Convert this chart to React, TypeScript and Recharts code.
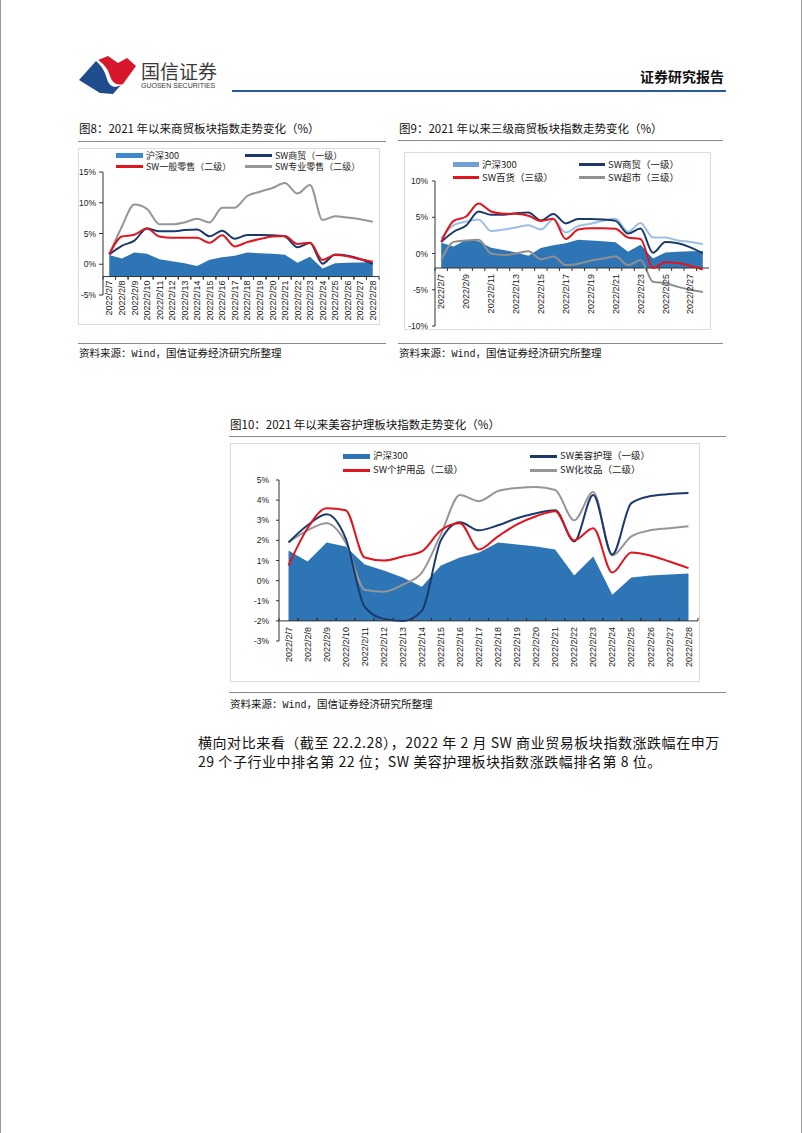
import React from 'react';
import { ComposedChart, Area, Line, XAxis, YAxis, ReferenceLine } from 'recharts';

// 交易日标签
const days = [
  '2022/2/7', '2022/2/8', '2022/2/9', '2022/2/10', '2022/2/11', '2022/2/12', '2022/2/13',
  '2022/2/14', '2022/2/15', '2022/2/16', '2022/2/17', '2022/2/18', '2022/2/19', '2022/2/20',
  '2022/2/21', '2022/2/22', '2022/2/23', '2022/2/24', '2022/2/25', '2022/2/26', '2022/2/27',
  '2022/2/28',
];

// 沪深300 (三张图共用)
const hs300 = [1.5, 0.95, 1.9, 1.7, 0.8, 0.5, 0.15, -0.3, 0.75, 1.15, 1.4, 1.9, 1.8, 1.7, 1.55, 0.25, 1.2, -0.7, 0.15, 0.25, 0.3, 0.35];

// 图8 / 图9
const swShangmao = [1.6, 3.0, 3.85, 5.8, 5.35, 5.35, 5.55, 5.65, 4.55, 5.45, 4.15, 4.75, 4.75, 4.7, 4.5, 2.75, 3.45, 0.1, 1.6, 1.4, 0.85, 0.05];
const swYibanLingshou = [1.6, 4.5, 4.8, 5.8, 4.5, 4.3, 4.3, 4.3, 3.5, 4.7, 2.9, 3.6, 4.1, 4.5, 4.6, 3.3, 3.5, 0.7, 1.5, 1.3, 0.8, 0.4];
const swZhuanyeLingshou = [1.6, 6.1, 9.7, 9.0, 6.5, 6.5, 6.8, 7.4, 6.8, 9.2, 9.2, 11.1, 11.8, 12.4, 13.2, 11.5, 12.9, 7.2, 7.8, 7.6, 7.3, 6.9];

const swBaihuo = [1.6, 4.5, 5.1, 6.9, 5.8, 5.5, 5.5, 5.2, 4.5, 4.8, 2.0, 3.3, 3.5, 3.5, 3.4, 2.2, 2.0, -2.0, -1.2, -1.3, -1.7, -2.2];
const swLightBlue = [2.1, 3.9, 4.4, 4.7, 3.1, 3.3, 3.6, 3.9, 3.3, 4.7, 2.9, 3.8, 4.1, 4.5, 4.8, 3.0, 4.2, 2.2, 2.2, 1.8, 1.6, 1.3];
const swChaoshi = [-0.9, 1.6, 1.8, 1.9, 0.0, -0.2, 0.0, 0.3, -0.8, -0.4, -1.6, -1.4, -1.0, -0.7, -0.4, -1.6, -0.9, -3.9, -4.1, -4.6, -5.0, -5.3];

// 图10
const swMeirong = [1.9, 2.75, 3.3, 2.1, -1.3, -1.9, -2.0, -1.5, 2.0, 2.9, 2.5, 2.75, 3.1, 3.35, 3.5, 1.95, 4.25, 1.3, 3.85, 4.2, 4.3, 4.35];
const swGehu = [0.75, 2.6, 3.6, 3.5, 1.15, 1.0, 1.2, 1.45, 2.5, 2.85, 1.55, 2.2, 2.8, 3.2, 3.45, 2.0, 2.6, 0.4, 1.4, 1.25, 0.95, 0.62];
const swHuazhuang = [1.9, 2.5, 2.85, 1.9, -0.45, -0.55, -0.2, 0.4, 2.3, 4.25, 3.95, 4.45, 4.6, 4.65, 4.5, 3.0, 4.4, 1.25, 2.2, 2.5, 2.6, 2.7];

const AREA = '#2E75B6';
const NAVY = '#1B3A6B';
const RED = '#E0141E';
const GRAY = '#969696';
const LIGHT = '#9DBFE4';

const CJK = '"Noto Sans CJK SC", "Noto Sans", sans-serif';
const LAT = '"Liberation Sans", Arial, sans-serif';

type S = { key: string; values: number[]; color: string; width?: number };

function XTick(props: any) {
  const { x, y, payload, shift, band, gap, up } = props;
  const ay = y - shift;
  const d = up ? -3 : 3;
  return (
    <g>
      <line x1={x - band / 2} x2={x - band / 2} y1={ay} y2={ay + d} stroke="#333" />
      <line x1={x + band / 2} x2={x + band / 2} y1={ay} y2={ay + d} stroke="#333" />
      <text
        transform={`translate(${x},${ay + gap}) rotate(-90)`}
        textAnchor="end"
        dy="0.35em"
        fontSize={9}
        fontFamily={LAT}
        fill="#222"
      >
        {payload.value}
      </text>
    </g>
  );
}

function Panel(p: {
  left: number; top: number; width: number; height: number;
  margin: { top: number; right: number; bottom: number; left: number };
  yWidth: number; xHeight: number; domain: [number, number]; ticks: number[];
  interval: number; lines: S[]; gap: number; up?: boolean; ySize: number; yMargin: number;
}) {
  const data = days.map((d, i) => {
    const r: any = { d, hs: hs300[i] };
    p.lines.forEach((s) => (r[s.key] = s.values[i]));
    return r;
  });
  const plotW = p.width - p.margin.left - p.margin.right - p.yWidth;
  const plotH = p.height - p.margin.top - p.margin.bottom - p.xHeight;
  const band = plotW / days.length;
  const shift = (plotH * (-2 - p.domain[0])) / (p.domain[1] - p.domain[0]);
  return (
    <div style={{ position: 'absolute', left: p.left, top: p.top }}>
      <ComposedChart width={p.width} height={p.height} data={data} margin={p.margin}>
        <XAxis
          dataKey="d"
          scale="point"
          padding={{ left: band / 2, right: band / 2 }}
          axisLine={false}
          tickLine={false}
          tickSize={0}
          tickMargin={0}
          interval={p.interval}
          height={p.xHeight}
          tick={(t: any) => <XTick {...t} shift={shift} band={band} gap={p.gap} up={p.up} />}
        />
        <YAxis
          type="number"
          domain={p.domain}
          ticks={p.ticks}
          interval={0}
          width={p.yWidth}
          allowDataOverflow
          axisLine={{ stroke: '#333' }}
          tickLine={{ stroke: '#333' }}
          tickSize={p.ySize}
          tickMargin={p.yMargin}
          tick={{ fontSize: 8.5, fill: '#222', fontFamily: LAT }}
          tickFormatter={(v) => `${v}%`}
        />
        <Area
          dataKey="hs"
          type="linear"
          baseValue={-2}
          fill={AREA}
          fillOpacity={1}
          stroke="none"
          dot={false}
          activeDot={false}
          isAnimationActive={false}
        />
        <ReferenceLine y={-2} stroke="#333" strokeWidth={1} />
        {p.lines.map((s) => (
          <Line
            key={s.key}
            dataKey={s.key}
            type="monotone"
            stroke={s.color}
            strokeWidth={s.width ?? 2}
            dot={false}
            activeDot={false}
            isAnimationActive={false}
          />
        ))}
      </ComposedChart>
    </div>
  );
}

function Legend2(p: {
  items: { label: string; color: string; thick: number }[];
  cols: number[]; rows: number[]; sw: number; fs: number;
}) {
  return (
    <>
      {p.items.map((it, i) => {
        const x = p.cols[i % 2];
        const y = p.rows[Math.floor(i / 2)];
        const lh = p.fs;
        return (
          <div key={it.label} style={{ position: 'absolute', left: x, top: y - lh / 2, height: lh, display: 'flex', alignItems: 'center', whiteSpace: 'nowrap' }}>
            <span style={{ display: 'inline-block', width: p.sw, height: it.thick, background: it.color, marginRight: 3 }} />
            <span style={{ display: 'block', height: lh, fontFamily: CJK, fontSize: p.fs, color: '#222', lineHeight: `${lh}px` }}>{it.label}</span>
          </div>
        );
      })}
    </>
  );
}

function Text(p: { left: number; top: number; size: number; children: React.ReactNode; bold?: boolean; color?: string; ls?: number }) {
  return (
    <div style={{ position: 'absolute', left: p.left, top: p.top, fontFamily: CJK, fontSize: p.size, lineHeight: `${p.size + 4}px`, whiteSpace: 'nowrap', fontWeight: p.bold ? 700 : 400, color: p.color ?? '#111', letterSpacing: p.ls ?? 0 }}>
      {p.children}
    </div>
  );
}

function HLine(p: { left: number; top: number; width: number; color?: string; h?: number }) {
  return <div style={{ position: 'absolute', left: p.left, top: p.top, width: p.width, height: p.h ?? 1, background: p.color ?? '#8a8a8a' }} />;
}

function Frame(p: { left: number; top: number; width: number; height: number }) {
  return <div style={{ position: 'absolute', left: p.left, top: p.top, width: p.width, height: p.height, border: '1px solid #dcdcdc', boxSizing: 'border-box' }} />;
}

function Source(p: { left: number; top: number }) {
  return (
    <Text left={p.left} top={p.top} size={10.5}>
      资料来源：<span style={{ fontFamily: '"Liberation Mono", monospace', fontSize: 10 }}>Wind</span>，国信证券经济研究所整理
    </Text>
  );
}

export default function App() {
  return (
    <div style={{ position: 'absolute', left: 0, top: 0, width: 802, height: 1133, background: '#fff', borderLeft: '1px solid #999', borderRight: '1px solid #999', boxSizing: 'border-box', overflow: 'hidden' }}>
      {/* 页眉 */}
      <svg style={{ position: 'absolute', left: 0, top: 0 }} width={802} height={110}>
        <path d="M97,60 L107,56 L117,63 L126,58 L135,66 L122,84 C115,86 111,82 109,76 C107,69 103,64 97,60 Z" fill="#D7172B" />
        <path d="M78,80 L95,61 C101,66 104,72 106,79 C108,86 113,89 120,85 L112,94 L99,93 Z" fill="#1F4C8C" />
      </svg>
      <Text left={140} top={59} size={19} color="#3a3a3a">国信证券</Text>
      <div style={{ position: 'absolute', left: 140, top: 82, fontFamily: LAT, fontSize: 7, color: '#3a3a3a', whiteSpace: 'nowrap' }}>GUOSEN SECURITIES</div>
      <div style={{ position: 'absolute', right: 77, top: 66, fontFamily: CJK, fontSize: 14, fontWeight: 700, color: '#111', whiteSpace: 'nowrap' }}>证券研究报告</div>
      <HLine left={231} top={90} width={494} h={2} color="#285A9C" />

      {/* 图8 */}
      <Text left={78} top={121} size={11.5}>图8：2021 年以来商贸板块指数走势变化（%）</Text>
      <HLine left={77} top={141} width={308} />
      <Frame left={77} top={148} width={302} height={177} />
      <Panel
        left={77} top={148} width={302} height={177}
        margin={{ top: 24, right: 1, bottom: 0, left: 0 }}
        yWidth={25} xHeight={30} domain={[-5, 15]} ticks={[-5, 0, 5, 10, 15]}
        interval={0} gap={4} ySize={4} yMargin={3}
        lines={[
          { key: 'zy', values: swZhuanyeLingshou, color: GRAY },
          { key: 'sm', values: swShangmao, color: NAVY },
          { key: 'yb', values: swYibanLingshou, color: RED },
        ]}
      />
      <Legend2
        items={[
          { label: '沪深300', color: '#3F87CB', thick: 5 },
          { label: 'SW商贸（一级）', color: NAVY, thick: 3 },
          { label: 'SW一般零售（二级）', color: RED, thick: 3 },
          { label: 'SW专业零售（二级）', color: GRAY, thick: 3 },
        ]}
        cols={[115, 244]} rows={[155.5, 166.5]} sw={27} fs={9}
      />
      <HLine left={77} top={343} width={308} />
      <Source left={78} top={346} />

      {/* 图9 */}
      <Text left={398} top={121} size={11.5}>图9：2021 年以来三级商贸板块指数走势变化（%）</Text>
      <HLine left={397} top={140} width={325} />
      <Frame left={403} top={152} width={307} height={178} />
      <Panel
        left={403} top={152} width={307} height={178}
        margin={{ top: 29, right: 2, bottom: 0, left: 0 }}
        yWidth={31} xHeight={4} domain={[-10, 10]} ticks={[-10, -5, 0, 5, 10]}
        interval={1} gap={6} ySize={3} yMargin={4}
        lines={[
          { key: 'cs', values: swChaoshi, color: '#8f8f8f' },
          { key: 'lb', values: swLightBlue, color: LIGHT },
          { key: 'sm', values: swShangmao, color: NAVY },
          { key: 'bh', values: swBaihuo, color: RED },
        ]}
      />
      <Legend2
        items={[
          { label: '沪深300', color: '#6FA0D8', thick: 5 },
          { label: 'SW商贸（一级）', color: NAVY, thick: 3 },
          { label: 'SW百货（三级）', color: RED, thick: 3 },
          { label: 'SW超市（三级）', color: '#8f8f8f', thick: 3 },
        ]}
        cols={[452, 578]} rows={[164.5, 177.5]} sw={26} fs={9.5}
      />
      <HLine left={397} top={343} width={325} />
      <Source left={398} top={346} />

      {/* 图10 */}
      <Text left={229} top={417} size={11.5}>图10：2021 年以来美容护理板块指数走势变化（%）</Text>
      <HLine left={228} top={436} width={497} />
      <Frame left={229} top={443} width={470} height={239} />
      <Panel
        left={229} top={443} width={470} height={239}
        margin={{ top: 37, right: 2, bottom: 0, left: 0 }}
        yWidth={49} xHeight={41} domain={[-3, 5]} ticks={[-3, -2, -1, 0, 1, 2, 3, 4, 5]}
        interval={0} gap={6} up ySize={3} yMargin={7}
        lines={[
          { key: 'hz', values: swHuazhuang, color: GRAY },
          { key: 'mr', values: swMeirong, color: NAVY },
          { key: 'gh', values: swGehu, color: RED },
        ]}
      />
      <Legend2
        items={[
          { label: '沪深300', color: '#2F73B8', thick: 5 },
          { label: 'SW美容护理（一级）', color: NAVY, thick: 3 },
          { label: 'SW个护用品（二级）', color: RED, thick: 3 },
          { label: 'SW化妆品（二级）', color: GRAY, thick: 3 },
        ]}
        cols={[342, 529]} rows={[456, 470]} sw={27} fs={9.5}
      />
      <HLine left={228} top={692} width={497} />
      <Source left={229} top={697} />

      {/* 正文 */}
      <Text left={197} top={733} size={14} ls={0.55}>横向对比来看（截至 22.2.28），2022 年 2 月 SW 商业贸易板块指数涨跌幅在申万</Text>
      <Text left={197} top={752} size={14} ls={0.55}>29 个子行业中排名第 22 位；SW 美容护理板块指数涨跌幅排名第 8 位。</Text>
    </div>
  );
}
